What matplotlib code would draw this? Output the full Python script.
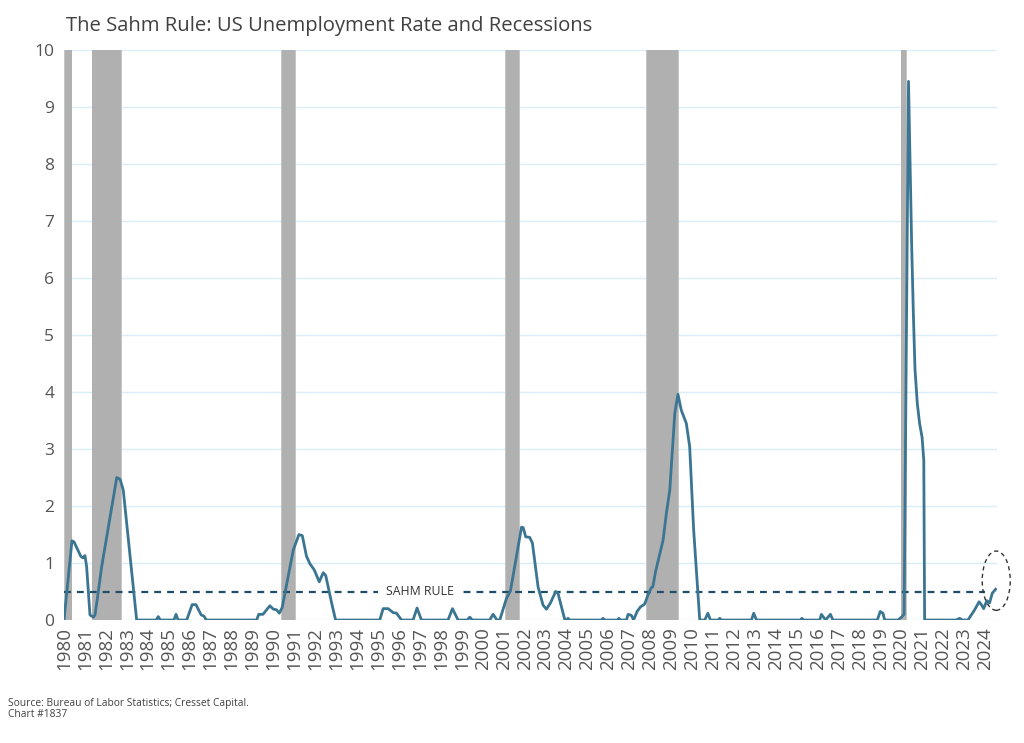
import matplotlib.pyplot as plt
from matplotlib.patches import Ellipse

# Sahm rule indicator (decimal year, value)
years = [1980.0, 1980.38, 1980.48, 1980.8, 1980.9, 1981.0, 1981.08, 1981.24, 1981.4, 1981.48,
         1981.64, 1981.8, 1982.52, 1982.68, 1982.83, 1983.47, 1984.4, 1984.5, 1984.6, 1985.25,
         1985.35, 1985.45, 1985.86, 1986.12, 1986.3, 1986.55, 1986.68, 1986.8, 1989.2, 1989.3,
         1989.5, 1989.83, 1990.0, 1990.15, 1990.28, 1990.42, 1990.95, 1991.22, 1991.38, 1991.58,
         1991.74, 1991.95, 1992.19, 1992.38, 1992.5, 1992.78, 1992.97, 1995.08, 1995.24, 1995.48,
         1995.72, 1995.88, 1996.12, 1996.67, 1996.86, 1997.07, 1998.34, 1998.55, 1998.82, 1999.25,
         1999.38, 1999.5, 2000.33, 2000.49, 2000.68, 2000.81, 2001.13, 2001.32, 2001.85, 2001.93,
         2002.05, 2002.24, 2002.37, 2002.64, 2002.88, 2003.04, 2003.23, 2003.48, 2003.59, 2003.76,
         2003.92, 2004.0, 2004.07, 2004.15, 2005.66, 2005.74, 2005.82, 2006.42, 2006.5, 2006.58,
         2006.86, 2006.94, 2007.1, 2007.2, 2007.37, 2007.53, 2007.73, 2007.89, 2008.05, 2008.12,
         2008.25, 2008.61, 2008.77, 2008.93, 2009.17, 2009.32, 2009.48, 2009.72, 2009.88, 2010.07,
         2010.36, 2010.6, 2010.75, 2010.87, 2011.25, 2011.31, 2011.4, 2012.83, 2012.94, 2013.07,
         2015.16, 2015.24, 2015.32, 2016.09, 2016.17, 2016.37, 2016.6, 2016.72, 2018.84, 2018.98,
         2019.11, 2019.19, 2019.83, 2019.99, 2020.12, 2020.33, 2020.4, 2020.48, 2020.56, 2020.64,
         2020.75, 2020.86, 2020.98, 2021.06, 2021.1, 2022.6, 2022.77, 2022.9, 2023.17, 2023.49,
         2023.7, 2023.81, 2023.92, 2024.07, 2024.2, 2024.33, 2024.49]
values = [0.0, 1.39, 1.37, 1.12, 1.09, 1.13, 0.94, 0.09, 0.05, 0.09,
          0.5, 0.94, 2.5, 2.47, 2.28, 0.0, 0.0, 0.06, 0.0, 0.0,
          0.1, 0.0, 0.0, 0.27, 0.27, 0.09, 0.07, 0.0, 0.0, 0.1,
          0.1, 0.25, 0.19, 0.18, 0.12, 0.22, 1.23, 1.5, 1.48, 1.12,
          0.99, 0.88, 0.67, 0.83, 0.78, 0.3, 0.0, 0.0, 0.2, 0.2,
          0.13, 0.12, 0.0, 0.0, 0.21, 0.0, 0.0, 0.2, 0.0, 0.0,
          0.05, 0.0, 0.0, 0.1, 0.0, 0.0, 0.38, 0.51, 1.63, 1.62,
          1.46, 1.45, 1.35, 0.58, 0.26, 0.19, 0.3, 0.5, 0.47, 0.23,
          0.0, 0.0, 0.03, 0.0, 0.0, 0.03, 0.0, 0.0, 0.03, 0.0,
          0.0, 0.1, 0.08, 0.0, 0.15, 0.23, 0.28, 0.44, 0.57, 0.58,
          0.85, 1.4, 1.88, 2.28, 3.63, 3.96, 3.68, 3.45, 3.04, 1.58,
          0.0, 0.0, 0.12, 0.0, 0.0, 0.03, 0.0, 0.0, 0.12, 0.0,
          0.0, 0.03, 0.0, 0.0, 0.1, 0.0, 0.1, 0.0, 0.0, 0.15,
          0.12, 0.0, 0.0, 0.05, 0.1, 9.45, 8.1, 6.6, 5.4, 4.4,
          3.8, 3.45, 3.2, 2.8, 0.0, 0.0, 0.03, 0.0, 0.0, 0.18,
          0.32, 0.27, 0.2, 0.34, 0.3, 0.47, 0.54]

# NBER recessions (decimal year)
rec_start = [1980.0, 1981.32, 1990.36, 2001.05, 2007.78, 2019.95]
rec_end = [1980.4, 1982.75, 1991.07, 2001.77, 2009.37, 2020.25]

sahm_threshold = 0.5
year_labels = list(range(1980, 2025))

plt.rcParams['font.family'] = ['Open Sans', 'DejaVu Sans']

fig = plt.figure(figsize=(10.24, 7.43), dpi=100)
ax = fig.add_axes([0.0625, 0.1655, 0.911, 0.7672])

for s, e in zip(rec_start, rec_end):
    ax.axvspan(s, e, color='#c6c6c6', lw=0, zorder=1)
    ax.axvspan(s + 0.04, e - 0.04, color='#b0b0b0', lw=0, zorder=1)

ax.plot(years, values, color='#3a7592', lw=2.0, zorder=3, solid_joinstyle='round')
ax.plot([1980.0, 2024.0], [sahm_threshold, sahm_threshold], color='#1f4e66', lw=1.6,
        dashes=(3.1, 2.7), zorder=2)
ax.text(1997.0, sahm_threshold, 'SAHM RULE', fontsize=8.8, color='#333333', ha='center',
        va='center', zorder=4,
        bbox=dict(facecolor='white', edgecolor='none', pad=6))

ax.add_patch(Ellipse((2024.52, 0.69), 1.34, 1.04, fill=False, ec='#333333', lw=1.0,
                     ls=(0, (3, 2.5)), zorder=5, clip_on=False))

ax.set_xlim(1980, 2024.55)
ax.set_ylim(0, 10)
ax.set_yticks(range(0, 11))
ax.set_xticks(year_labels)
ax.set_xticklabels([str(y) for y in year_labels], rotation=90, fontsize=13.5)
ax.tick_params(axis='both', length=0, colors='#555555')
ax.tick_params(axis='y', pad=7, labelsize=12.5)
ax.tick_params(axis='x', pad=5)
ax.grid(axis='y', color='#d8eef9', lw=1.0, zorder=0)
ax.set_axisbelow(True)
for sp in ax.spines.values():
    sp.set_visible(False)

fig.text(0.064, 0.978, 'The Sahm Rule: US Unemployment Rate and Recessions', fontsize=14.6,
         color='#404040', va='top')
fig.text(0.008, 0.061, 'Source: Bureau of Labor Statistics; Cresset Capital.\nChart #1837',
         fontsize=7.4, color='#404040', va='top', linespacing=1.0)

plt.savefig('out.png', dpi=100)
